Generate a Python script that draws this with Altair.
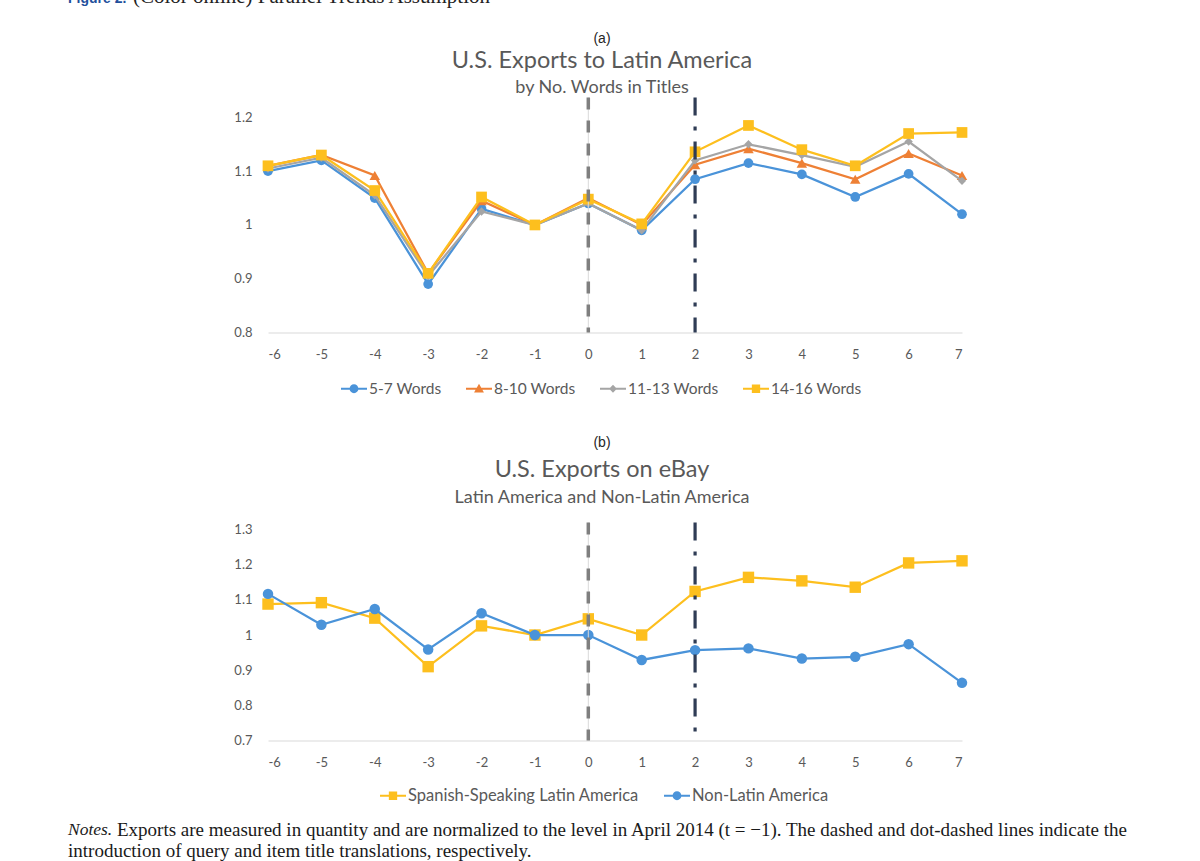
import altair as alt
import pandas as pd

# ---------------- data ----------------
t_vals = list(range(-6, 8))

a_names = ["5-7 Words", "8-10 Words", "11-13 Words", "14-16 Words"]
a_5_7 = [1.100, 1.120, 1.050, 0.890, 1.030, 1.000, 1.040, 0.990, 1.085, 1.115, 1.094, 1.052, 1.095, 1.020]
a_8_10 = [1.110, 1.130, 1.092, 0.910, 1.045, 1.000, 1.050, 1.000, 1.112, 1.142, 1.115, 1.085, 1.133, 1.092]
a_11_13 = [1.105, 1.125, 1.055, 0.905, 1.025, 1.000, 1.040, 0.990, 1.120, 1.150, 1.130, 1.108, 1.155, 1.082]
a_14_16 = [1.110, 1.130, 1.064, 0.910, 1.052, 1.000, 1.048, 1.002, 1.136, 1.185, 1.140, 1.110, 1.170, 1.172]
a_values = [a_5_7, a_8_10, a_11_13, a_14_16]

b_names = ["Spanish-Speaking Latin America", "Non-Latin America"]
b_spanish = [1.088, 1.092, 1.048, 0.910, 1.026, 1.000, 1.046, 1.000, 1.124, 1.164, 1.154, 1.136, 1.205, 1.211]
b_nonlatin = [1.117, 1.029, 1.074, 0.959, 1.062, 1.000, 1.000, 0.929, 0.957, 0.962, 0.933, 0.938, 0.974, 0.864]
b_values = [b_spanish, b_nonlatin]

a_yticks = [0.8, 0.9, 1.0, 1.1, 1.2]
b_yticks = [0.7, 0.8, 0.9, 1.0, 1.1, 1.2, 1.3]

query_event = [0]
title_event = [2]

a_titles = ["(a)", "U.S. Exports to Latin America", "by No. Words in Titles"]
b_titles = ["(b)", "U.S. Exports on eBay", "Latin America and Non-Latin America"]
caption_lead = ["Figure 2."]
caption_rest = ["(Color online) Parallel Trends Assumption"]
notes_lead = ["Notes."]
notes_lines = [
    "Exports are measured in quantity and are normalized to the level in April 2014 (t = \u22121). The dashed and dot-dashed lines indicate the",
    "introduction of query and item title translations, respectively.",
]

# ---------------- styles ----------------
BLUE, ORANGE, GRAY, YELLOW = "#4a93d9", "#ee8035", "#a5a5a5", "#fdbf1e"
LABEL = "#595959"
FONT = "Lato"
SERIF = "Liberation Serif"

LINE = "M-1,-0.085H1V0.085H-1Z"
P_CIRCLE = LINE + "M0.34,0A0.34,0.34 0 1,1 -0.34,0A0.34,0.34 0 1,1 0.34,0Z"
P_TRI = LINE + "M0,-0.38L0.38,0.28L-0.38,0.28Z"
P_DIAM = LINE + "M0,-0.3L0.3,0L0,0.3L-0.3,0Z"
P_SQ = LINE + "M-0.32,-0.32H0.32V0.32H-0.32Z"

x_scale = alt.Scale(domain=[-6, 7], nice=False, zero=False)
x_axis = alt.Axis(values=t_vals, labelExpr="'' + datum.value", title=None, grid=False,
                  ticks=False, domainColor="#d9d9d9", domainWidth=1, labelColor=LABEL,
                  labelFont=FONT, labelFontSize=13, labelPadding=16, labelOverlap=False,
                  tickCount=len(t_vals))


def y_axis(ticks):
    return alt.Axis(values=ticks, labelExpr="'' + datum.value", title=None, grid=False,
                    ticks=False, domain=False, labelColor=LABEL, labelFont=FONT,
                    labelFontSize=13, labelPadding=16, labelOverlap=False,
                    tickCount=len(ticks))


def text_layer(txt, font, size, color, x, y, align="center", style="normal", weight="normal"):
    d = pd.DataFrame({"label": [txt]})
    return alt.Chart(d).mark_text(font=font, fontSize=size, color=color, align=align,
                                  baseline="middle", fontStyle=style,
                                  fontWeight=weight).encode(
        text="label:N", x=alt.value(x), y=alt.value(y))


def panel(names, values, colors, shapes, sizes, paths, ydom, yticks, height,
          leg_x, leg_y, leg_cols, leg_font, leg_pad, titles, title_y, extra=None):
    xenc = alt.X("t:Q", scale=x_scale, axis=x_axis)
    ys = alt.Scale(domain=ydom, nice=False, zero=False)
    yenc = alt.Y("v:Q", scale=ys, axis=y_axis(yticks))
    layers = []
    for name, vals, col, shp, sz in zip(names, values, colors, shapes, sizes):
        df = pd.DataFrame({"t": t_vals, "v": vals, "series": name})
        base = alt.Chart(df).encode(x=xenc, y=yenc)
        layers.append(base.mark_line(color=col, strokeWidth=2.25))
        layers.append(base.mark_point(filled=True, opacity=1, shape=shp, size=sz,
                                      color=col, strokeWidth=0))
    # event lines
    q = pd.DataFrame({"t": query_event})
    layers.append(alt.Chart(q).mark_rule(color="#d9d9d9", strokeWidth=1).encode(x=xenc))
    layers.append(alt.Chart(q).mark_rule(color="#7f7f7f", strokeWidth=3.5,
                                         strokeDash=[12, 11]).encode(x=xenc))
    e = pd.DataFrame({"t": title_event})
    layers.append(alt.Chart(e).mark_rule(color="#2f3c55", strokeWidth=3.2,
                                         strokeDash=[18, 11, 4, 11]).encode(x=xenc))
    # legend layer (invisible points, legend only)
    leg = alt.Legend(title=None, orient="none", legendX=leg_x, legendY=leg_y,
                     direction="horizontal", columns=leg_cols, symbolSize=676,
                     symbolStrokeWidth=0, labelFont=FONT, labelFontSize=leg_font,
                     labelColor=LABEL, columnPadding=leg_pad, labelOffset=2,
                     labelLimit=400, padding=0, symbolOpacity=1)
    ldf = pd.DataFrame({"series": names})
    layers.append(
        alt.Chart(ldf).mark_point(filled=True, opacity=1, clip=True).encode(
            x=alt.datum(0), y=alt.datum(ydom[1] + 10),
            color=alt.Color("series:N", scale=alt.Scale(domain=names, range=colors), legend=leg),
            shape=alt.Shape("series:N", scale=alt.Scale(domain=names, range=paths), legend=leg),
        )
    )
    # titles
    fonts = [("Liberation Sans", 14, "#262626"), (FONT, 23.5, LABEL), (FONT, 18, LABEL)]
    for txt, (fnt, fs, fc), ty in zip(titles, fonts, title_y):
        layers.append(text_layer(txt, fnt, fs, fc, 334, ty))
    if extra:
        layers.extend(extra)
    return alt.layer(*layers).properties(width=694, height=height)


# caption (cut at the top of the page) and notes
caption_layers = [
    text_layer(caption_lead[0], "Liberation Sans", 14, "#1f4f9c", -200, -98.5,
               align="left", weight="bold"),
    text_layer(caption_rest[0], SERIF, 21, "#222222", -135, -101, align="left"),
]
notes_layers = [
    text_layer(notes_lead[0], SERIF, 17.5, "#1a1a1a", -200, 307, align="left", style="italic"),
    text_layer(notes_lines[0], SERIF, 19, "#1a1a1a", -151, 307, align="left"),
    text_layer(notes_lines[1], SERIF, 19, "#1a1a1a", -200, 328, align="left"),
]

pA = panel(a_names, a_values, [BLUE, ORANGE, GRAY, YELLOW],
           ["circle", "triangle-up", "diamond", "square"], [95, 110, 70, 115],
           [P_CIRCLE, P_TRI, P_DIAM, P_SQ], [0.8, 1.237], a_yticks, 235,
           73, 278, 4, 15.5, 24, a_titles, [-59, -37, -10], extra=caption_layers)

pB = panel(b_names, b_values, [YELLOW, BLUE], ["square", "circle"], [130, 110],
           [P_SQ, P_CIRCLE], [0.7, 1.32], b_yticks, 218,
           112, 260, 2, 16.5, 25, b_titles, [-80, -53, -25], extra=notes_layers)

chart = alt.vconcat(pA, pB, spacing=190, bounds="flush").resolve_scale(
    color="independent", shape="independent"
).resolve_legend(color="independent", shape="independent").properties(
    padding={"left": 68, "top": -14.5, "right": 10, "bottom": 5}
).configure_view(stroke=None)

chart.save("out.html", embed_options={"renderer": "svg", "actions": False})
